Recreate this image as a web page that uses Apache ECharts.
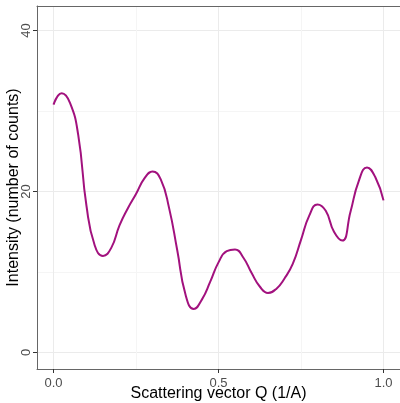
<!DOCTYPE html>
<html>
<head>
<meta charset="utf-8">
<script src="https://cdn.jsdelivr.net/npm/echarts@6/dist/echarts.min.js"></script>
<style>
html,body{margin:0;padding:0;background:#fff;}
#chart{width:400px;height:403px;}
</style>
</head>
<body>
<div id="chart"></div>
<script>
const qValues = [0, 0.025, 0.05, 0.075, 0.1, 0.125, 0.15, 0.175, 0.2, 0.225, 0.25, 0.275, 0.3, 0.325, 0.35, 0.375, 0.4, 0.425, 0.45, 0.475, 0.5, 0.525, 0.55, 0.575, 0.6, 0.625, 0.65, 0.675, 0.7, 0.725, 0.75, 0.775, 0.8, 0.825, 0.85, 0.875, 0.9, 0.925, 0.95, 0.975, 1.0];
const intensity = [30.8, 32.2, 31.0, 27.0, 18.2, 13.3, 12.0, 13.0, 15.8, 17.9, 19.7, 21.6, 22.5, 21.5, 18.0, 12.7, 7.2, 5.4, 6.6, 8.8, 11.2, 12.6, 12.8, 11.8, 9.9, 8.2, 7.4, 7.9, 9.2, 11.0, 14.0, 17.0, 18.4, 17.6, 15.0, 13.9, 17.5, 21.3, 23.0, 21.8, 18.9];
const xMajorTicks = [0, 0.5, 1];
const xMinorTicks = [0.25, 0.75];
const yMajorTicks = [0, 20, 40];
const yMinorTicks = [10, 30];
const xTitle = 'Scattering vector Q (1/A)';
const yTitle = 'Intensity (number of counts)';

const font = 'Liberation Sans, Arial, Helvetica, sans-serif';
const chart = echarts.init(document.getElementById('chart'), null, {renderer: 'canvas'});
chart.setOption({
  animation: false,
  backgroundColor: '#fff',
  grid: {left: 37, right: 0, top: 6, bottom: 34, containLabel: false, outerBoundsMode: 'none'},
  xAxis: [{
    type: 'value', position: 'bottom', min: -0.05, max: 1.05,
    axisLine: {show: true, onZero: false, lineStyle: {color: '#666', width: 1}},
    axisTick: {show: true, customValues: xMajorTicks, length: 4, lineStyle: {color: '#333'}},
    axisLabel: {show: true, customValues: xMajorTicks, formatter: v => v.toFixed(1), color: '#4d4d4d', fontSize: 13, fontFamily: font, margin: 8},
    splitLine: {show: true, lineStyle: {color: '#ebebeb', width: 1}},
    name: xTitle, nameLocation: 'middle', nameGap: 17, nameMoveOverlap: false,
    nameTextStyle: {fontSize: 16, color: '#000', fontFamily: font}
  }, {
    type: 'value', position: 'top', min: -0.05, max: 1.05,
    axisLine: {show: true, onZero: false, lineStyle: {color: '#666', width: 1}},
    axisTick: {show: false, customValues: xMinorTicks},
    axisLabel: {show: false, customValues: xMinorTicks},
    splitLine: {show: true, lineStyle: {color: '#f5f5f5', width: 1}}
  }],
  yAxis: [{
    type: 'value', position: 'left', min: -2.05, max: 43.05,
    axisLine: {show: true, onZero: false, lineStyle: {color: '#666', width: 1}},
    axisTick: {show: true, customValues: yMajorTicks, length: 4, lineStyle: {color: '#333'}},
    axisLabel: {show: true, customValues: yMajorTicks, rotate: 90, color: '#4d4d4d', fontSize: 13, fontFamily: font, margin: 4},
    splitLine: {show: true, lineStyle: {color: '#ebebeb', width: 1}},
    name: yTitle, nameLocation: 'middle', nameGap: 15, nameMoveOverlap: false,
    nameTextStyle: {fontSize: 16, color: '#000', fontFamily: font}
  }, {
    type: 'value', position: 'right', min: -2.05, max: 43.05,
    axisLine: {show: false},
    axisTick: {show: false, customValues: yMinorTicks},
    axisLabel: {show: false, customValues: yMinorTicks},
    splitLine: {show: true, lineStyle: {color: '#f5f5f5', width: 1}}
  }],
  series: [{
    type: 'line',
    xAxisIndex: 0, yAxisIndex: 0,
    data: qValues.map((q, i) => [q, intensity[i]]),
    smooth: 0.5,
    showSymbol: false,
    lineStyle: {color: '#a2117e', width: 2},
    z: 5
  }]
});
</script>
</body>
</html>
